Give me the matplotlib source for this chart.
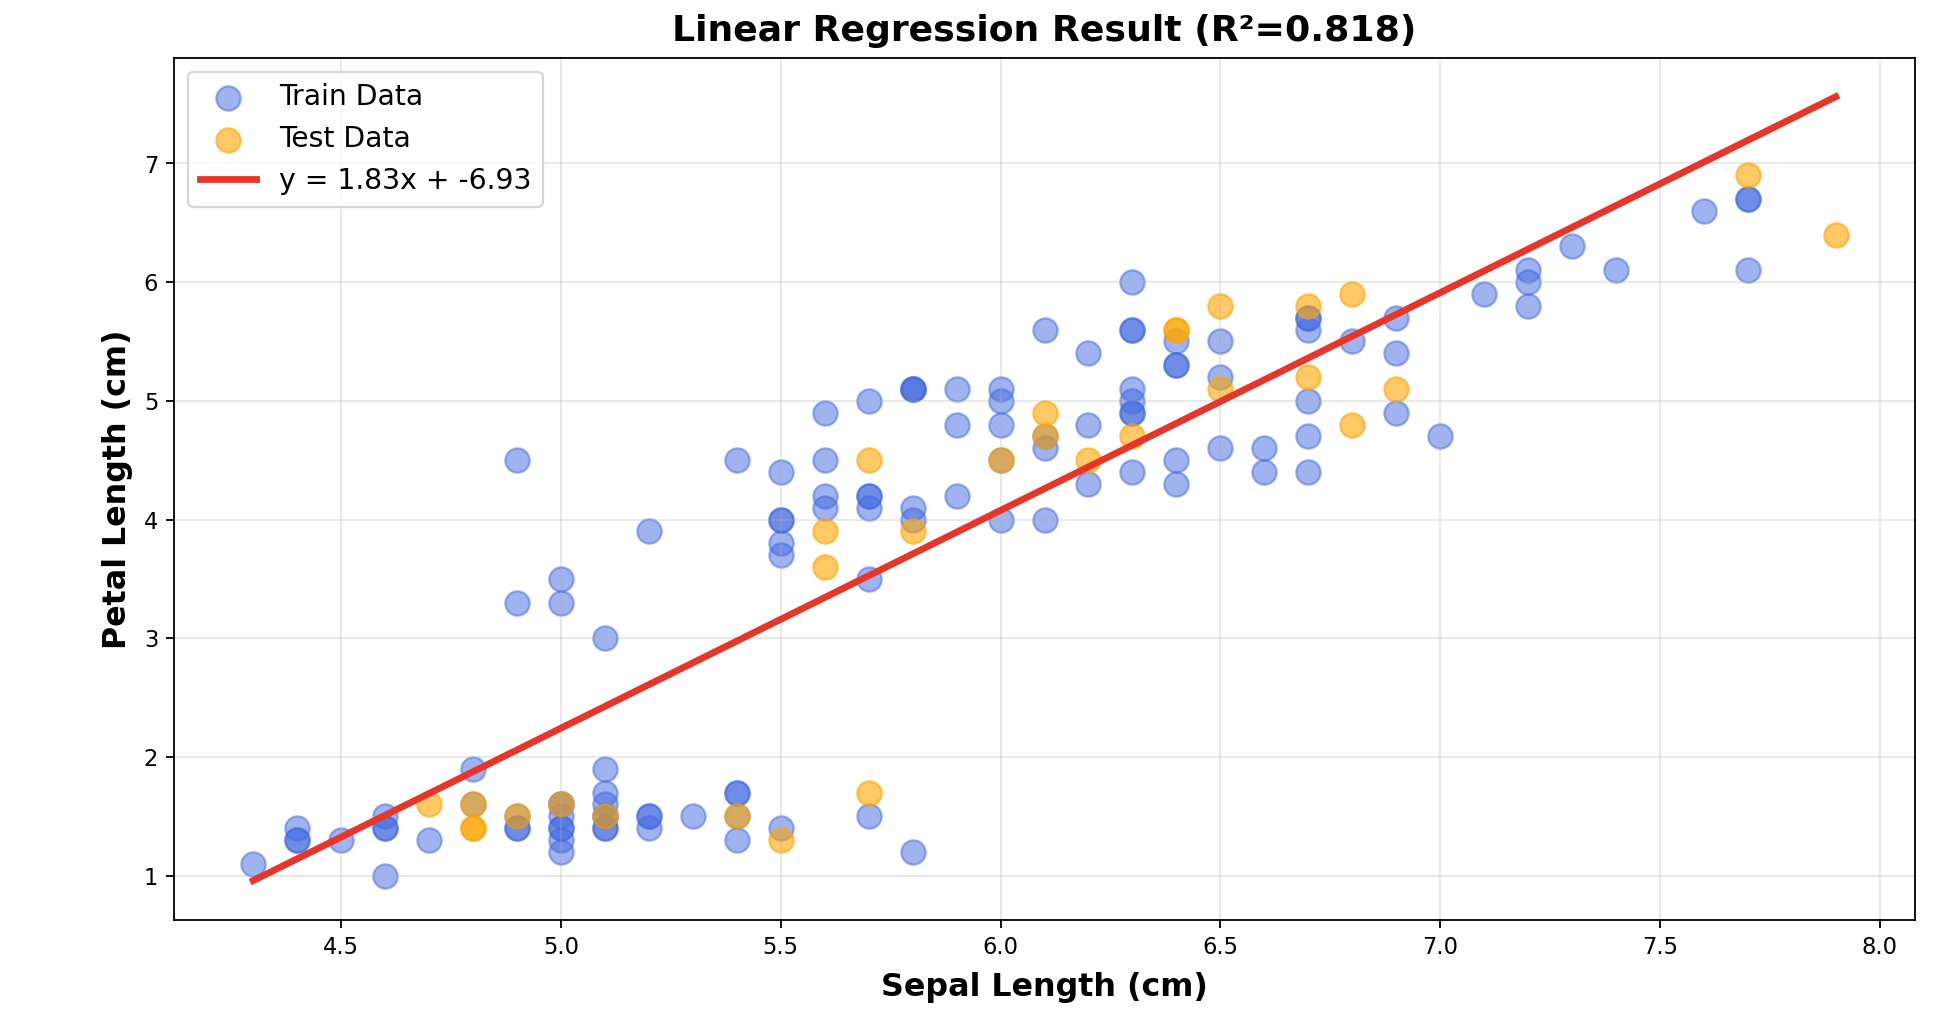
import numpy as np
import matplotlib
matplotlib.use("Agg")
import matplotlib.pyplot as plt

# Iris data: sepal length and petal length (cm), all 150 samples
sepal_length = [
    5.1, 4.9, 4.7, 4.6, 5.0, 5.4, 4.6, 5.0, 4.4, 4.9, 5.4, 4.8, 4.8, 4.3, 5.8, 5.7,
    5.4, 5.1, 5.7, 5.1, 5.4, 5.1, 4.6, 5.1, 4.8, 5.0, 5.0, 5.2, 5.2, 4.7, 4.8, 5.4,
    5.2, 5.5, 4.9, 5.0, 5.5, 4.9, 4.4, 5.1, 5.0, 4.5, 4.4, 5.0, 5.1, 4.8, 5.1, 4.6,
    5.3, 5.0,
    7.0, 6.4, 6.9, 5.5, 6.5, 5.7, 6.3, 4.9, 6.6, 5.2, 5.0, 5.9, 6.0, 6.1, 5.6, 6.7,
    5.6, 5.8, 6.2, 5.6, 5.9, 6.1, 6.3, 6.1, 6.4, 6.6, 6.8, 6.7, 6.0, 5.7, 5.5, 5.5,
    5.8, 6.0, 5.4, 6.0, 6.7, 6.3, 5.6, 5.5, 5.5, 6.1, 5.8, 5.0, 5.6, 5.7, 5.7, 6.2,
    5.1, 5.7,
    6.3, 5.8, 7.1, 6.3, 6.5, 7.6, 4.9, 7.3, 6.7, 7.2, 6.5, 6.4, 6.8, 5.7, 5.8, 6.4,
    6.5, 7.7, 7.7, 6.0, 6.9, 5.6, 7.7, 6.3, 6.7, 7.2, 6.2, 6.1, 6.4, 7.2, 7.4, 7.9,
    6.4, 6.3, 6.1, 7.7, 6.3, 6.4, 6.0, 6.9, 6.7, 6.9, 5.8, 6.8, 6.7, 6.7, 6.3, 6.5,
    6.2, 5.9,
]
petal_length = [
    1.4, 1.4, 1.3, 1.5, 1.4, 1.7, 1.4, 1.5, 1.4, 1.5, 1.5, 1.6, 1.4, 1.1, 1.2, 1.5,
    1.3, 1.4, 1.7, 1.5, 1.7, 1.5, 1.0, 1.7, 1.9, 1.6, 1.6, 1.5, 1.4, 1.6, 1.6, 1.5,
    1.5, 1.4, 1.5, 1.2, 1.3, 1.4, 1.3, 1.5, 1.3, 1.3, 1.3, 1.6, 1.9, 1.4, 1.6, 1.4,
    1.5, 1.4,
    4.7, 4.5, 4.9, 4.0, 4.6, 4.5, 4.7, 3.3, 4.6, 3.9, 3.5, 4.2, 4.0, 4.7, 3.6, 4.4,
    4.5, 4.1, 4.5, 3.9, 4.8, 4.0, 4.9, 4.7, 4.3, 4.4, 4.8, 5.0, 4.5, 3.5, 3.8, 3.7,
    3.9, 5.1, 4.5, 4.5, 4.7, 4.4, 4.1, 4.0, 4.4, 4.6, 4.0, 3.3, 4.2, 4.2, 4.2, 4.3,
    3.0, 4.1,
    6.0, 5.1, 5.9, 5.6, 5.8, 6.6, 4.5, 6.3, 5.8, 6.1, 5.1, 5.3, 5.5, 5.0, 5.1, 5.3,
    5.5, 6.7, 6.9, 5.0, 5.7, 4.9, 6.7, 4.9, 5.7, 6.0, 4.8, 4.9, 5.6, 5.8, 6.1, 6.4,
    5.6, 5.1, 5.6, 6.1, 5.6, 5.5, 4.8, 5.4, 5.6, 5.1, 5.1, 5.9, 5.7, 5.2, 5.0, 5.2,
    5.4, 5.1,
]
# Samples held out as test data
test_idx = [73, 18, 118, 78, 76, 31, 64, 141, 68, 82, 110, 12, 36, 9, 19, 56, 104,
            69, 55, 132, 29, 127, 26, 128, 131, 145, 108, 143, 45, 30]

r2 = 0.818

sl = np.array(sepal_length)
pl = np.array(petal_length)
is_test = np.zeros(len(sl), dtype=bool)
is_test[test_idx] = True

# least-squares line fitted on the training samples
slope, intercept = np.polyfit(sl[~is_test], pl[~is_test], 1)

fig, ax = plt.subplots(figsize=(12, 6.32), dpi=163)
ax.scatter(sl[~is_test], pl[~is_test], s=115, color="royalblue", alpha=0.5,
           label="Train Data")
ax.scatter(sl[test_idx], pl[test_idx], s=115, color="orange", alpha=0.6,
           label="Test Data")
lx = np.array([sl.min(), sl.max()])
ax.plot(lx, slope * lx + intercept, color="#e8352a", linewidth=3,
        label=f"y = {slope:.2f}x + {intercept:.2f}")

ax.set_xlabel("Sepal Length (cm)", fontsize=14, fontweight="bold", labelpad=6)
ax.set_ylabel("Petal Length (cm)", fontsize=14, fontweight="bold", labelpad=5)
ax.set_title(f"Linear Regression Result (R²={r2:.3f})", fontsize=16,
             fontweight="bold", pad=7.5)
ax.grid(True, alpha=0.3)
ax.legend(fontsize=12.5, loc="upper left")

fig.subplots_adjust(left=0.089, right=0.979, top=0.944, bottom=0.107)
fig.savefig("out.png", dpi=163)
